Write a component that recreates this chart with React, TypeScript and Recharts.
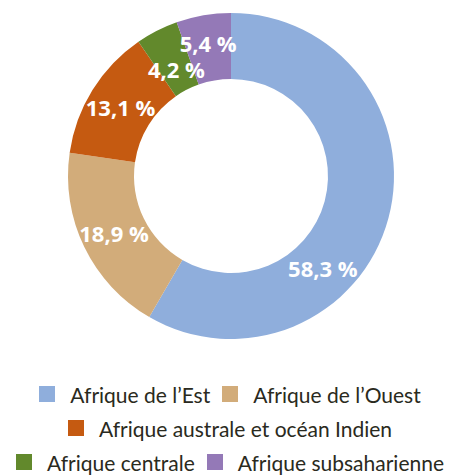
import { PieChart, Pie, Cell, Legend } from "recharts";

const regions = [
  "Afrique de l’Est",
  "Afrique de l’Ouest",
  "Afrique australe et océan Indien",
  "Afrique centrale",
  "Afrique subsaharienne",
];
const shares = [58.3, 18.9, 13.1, 4.2, 5.4];
const colors = ["#8FAEDC", "#D2AC7A", "#C55A11", "#62892C", "#9479B7"];

const data = regions.map((name, i) => ({ name, value: shares[i] }));

const RAD = Math.PI / 180;

// étiquettes blanches au milieu de l'anneau
function renderLabel(props: any) {
  const { cx, cy, midAngle, innerRadius, outerRadius, percent, value } = props;
  // petites parts voisines : l'une rentre vers l'intérieur, l'autre sort un peu
  let f = 0.5;
  if (percent < 0.05) f = 0.35;
  else if (percent < 0.1) f = 0.58;
  const r = innerRadius + (outerRadius - innerRadius) * f;
  // la grande part a son étiquette décalée vers le bas
  const angle = percent > 0.5 ? midAngle - 30 : midAngle;
  const x = cx + r * Math.cos(-angle * RAD);
  const y = cy + r * Math.sin(-angle * RAD);
  return (
    <text
      x={x}
      y={y}
      fill="#ffffff"
      textAnchor="middle"
      dominantBaseline="central"
      fontFamily="'Open Sans', sans-serif"
      fontWeight={700}
      fontSize={22}
    >
      {`${Number(value).toFixed(1).replace(".", ",")} %`}
    </text>
  );
}

function renderLegend() {
  return (
    <div
      style={{
        display: "flex",
        flexWrap: "wrap",
        justifyContent: "center",
        width: 460,
      }}
    >
      {regions.map((name, i) => (
        <div
          key={name}
          style={{
            display: "flex",
            alignItems: "center",
            height: 34,
            margin: "0 6px",
          }}
        >
          <span
            style={{
              display: "inline-block",
              width: 16,
              height: 16,
              background: colors[i],
              marginRight: 15,
            }}
          />
          <span
            style={{
              fontFamily: "Lato, sans-serif",
              fontSize: 21,
              color: "#2a2a20",
              whiteSpace: "nowrap",
            }}
          >
            {name}
          </span>
        </div>
      ))}
    </div>
  );
}

export default function App() {
  return (
    <div style={{ position: "absolute", left: 0, top: 0, width: 460, height: 475, background: "#fff" }}>
      <PieChart width={460} height={475} margin={{ top: 0, right: 0, bottom: 0, left: 0 }}>
        <Pie
          data={data}
          dataKey="value"
          nameKey="name"
          cx={231}
          cy={176}
          innerRadius={97}
          outerRadius={163}
          startAngle={90}
          endAngle={-270}
          stroke="none"
          labelLine={false}
          label={renderLabel}
          isAnimationActive={false}
        >
          {data.map((d, i) => (
            <Cell key={d.name} fill={colors[i]} />
          ))}
        </Pie>
        <Legend
          content={renderLegend}
          wrapperStyle={{ position: "absolute", top: 377, left: 0, width: 460 }}
        />
      </PieChart>
    </div>
  );
}
